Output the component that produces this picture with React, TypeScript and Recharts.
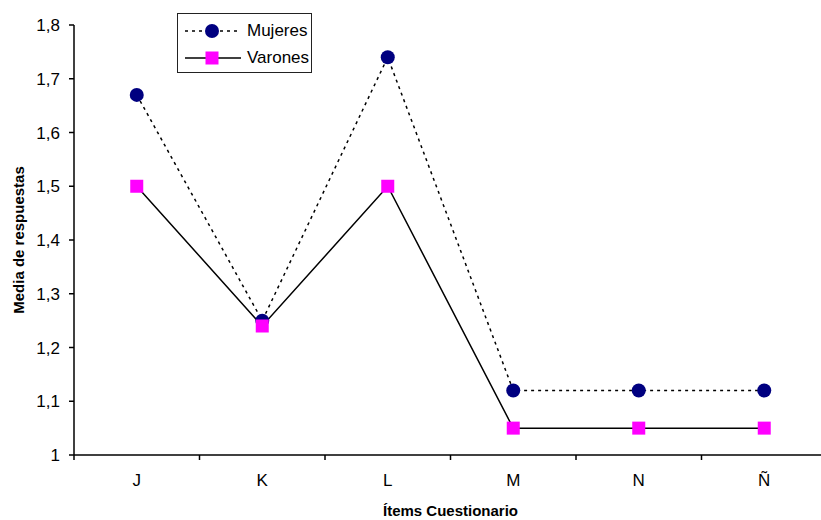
import { Label, Legend, Line, LineChart, XAxis, YAxis } from "recharts";

const categories = ["J", "K", "L", "M", "N", "Ñ"];
const mujeres = [1.67, 1.25, 1.74, 1.12, 1.12, 1.12];
const varones = [1.5, 1.24, 1.5, 1.05, 1.05, 1.05];
const yTicks = [1, 1.1, 1.2, 1.3, 1.4, 1.5, 1.6, 1.7, 1.8];

// x is the category index shifted to the middle of its band
const data = categories.map((name, i) => ({
  x: i + 0.5,
  name,
  mujeres: mujeres[i],
  varones: varones[i],
}));

// integer positions carry the tick marks, half positions carry the labels
const xTicks = Array.from({ length: categories.length * 2 + 1 }, (_, i) => i / 2);

const font = "Arial, 'Liberation Sans', sans-serif";

function XTick(props: any) {
  const { x, y, payload } = props;
  const v = payload.value as number;
  if (Number.isInteger(v)) {
    return <line x1={x} x2={x} y1={y} y2={y + 5} stroke="#000" strokeWidth={1.5} />;
  }
  return (
    <text x={x} y={y + 31} textAnchor="middle" fontSize={17} fontFamily={font} fill="#000">
      {categories[Math.floor(v)]}
    </text>
  );
}

function SquareDot(props: any) {
  const { cx, cy } = props;
  if (cx == null || cy == null) return null;
  return <rect x={cx - 6.5} y={cy - 6.5} width={13} height={13} fill="#FF00FF" />;
}

function LegendBox() {
  const row = { display: "flex", alignItems: "center", height: 27 } as const;
  return (
    <div
      style={{
        border: "1.5px solid #222",
        background: "#fff",
        width: 133,
        height: 55,
        paddingTop: 3,
        boxSizing: "content-box",
        fontFamily: font,
        fontSize: 17,
        color: "#000",
      }}
    >
      <div style={row}>
        <svg width={64} height={20} style={{ marginLeft: 5 }}>
          <line x1={2} x2={58} y1={10} y2={10} stroke="#000" strokeWidth={1.5} strokeDasharray="3 4" />
          <circle cx={29} cy={10} r={7} fill="#000080" />
        </svg>
        <span>Mujeres</span>
      </div>
      <div style={row}>
        <svg width={64} height={20} style={{ marginLeft: 5 }}>
          <line x1={2} x2={58} y1={10} y2={10} stroke="#000" strokeWidth={1.5} />
          <rect x={22.5} y={3.5} width={13} height={13} fill="#FF00FF" />
        </svg>
        <span>Varones</span>
      </div>
    </div>
  );
}

export default function App() {
  return (
    <div style={{ position: "fixed", left: 0, top: 0, width: 821, height: 520, overflow: "hidden", background: "#fff" }}>
      <LineChart width={830} height={520} data={data} margin={{ top: 25, right: 3, bottom: 0, left: 0 }}>
        <XAxis
          dataKey="x"
          type="number"
          domain={[0, categories.length]}
          ticks={xTicks}
          interval={0}
          tickLine={false}
          tickSize={0}
          tickMargin={0}
          tick={<XTick />}
          height={65}
          axisLine={{ stroke: "#000", strokeWidth: 1.5 }}
        >
          <Label
            value="Ítems Cuestionario"
            position="insideBottom"
            offset={4}
            style={{ fontFamily: font, fontSize: 15, fontWeight: "bold", fill: "#000" }}
          />
        </XAxis>
        <YAxis
          type="number"
          domain={[1, 1.8]}
          ticks={yTicks}
          interval={0}
          width={74}
          tickSize={5}
          tickMargin={9}
          tickFormatter={(v: number) => String(Math.round(v * 10) / 10).replace(".", ",")}
          tick={{ fill: "#000", fontSize: 17, fontFamily: font }}
          tickLine={{ stroke: "#000", strokeWidth: 1.5 }}
          axisLine={{ stroke: "#000", strokeWidth: 1.5 }}
        >
          <Label
            value="Media de respuestas"
            angle={-90}
            position="insideLeft"
            offset={19}
            style={{ textAnchor: "middle", fontFamily: font, fontSize: 15, fontWeight: "bold", fill: "#000" }}
          />
        </YAxis>
        <Legend
          layout="vertical"
          align="center"
          verticalAlign="middle"
          wrapperStyle={{ left: 177, top: 13, width: "auto" }}
          content={() => <LegendBox />}
        />
        <Line
          dataKey="mujeres"
          name="Mujeres"
          stroke="#000"
          strokeWidth={1.5}
          strokeDasharray="3 4"
          dot={{ r: 7, fill: "#000080", stroke: "none" }}
          isAnimationActive={false}
        />
        <Line
          dataKey="varones"
          name="Varones"
          stroke="#000"
          strokeWidth={1.5}
          dot={<SquareDot />}
          isAnimationActive={false}
        />
      </LineChart>
    </div>
  );
}
